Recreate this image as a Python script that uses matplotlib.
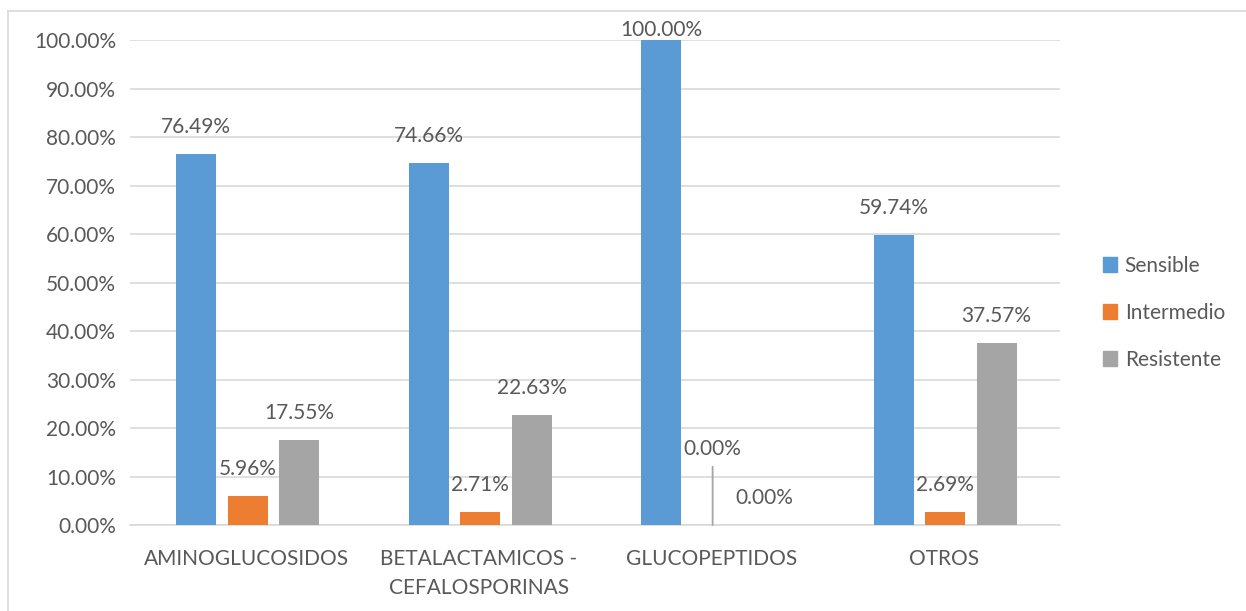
import matplotlib
matplotlib.use("Agg")
import numpy as np
from matplotlib import pyplot as plt
from matplotlib.lines import Line2D

# data
categories = ['AMINOGLUCOSIDOS', 'BETALACTAMICOS -\nCEFALOSPORINAS', 'GLUCOPEPTIDOS', 'OTROS']
series_names = ['Sensible', 'Intermedio', 'Resistente']
sensible = [76.49, 74.66, 100.00, 59.74]
intermedio = [5.96, 2.71, 0.00, 2.69]
resistente = [17.55, 22.63, 0.00, 37.57]

colors = ['#5B9BD5', '#ED7D31', '#A5A5A5']
txt = '#595959'

plt.rcParams['font.family'] = ['Lato', 'DejaVu Sans']
fs = 15

fig = plt.figure(figsize=(12.46, 6.11), dpi=100)
ax = fig.add_axes([0.1043, 0.1407, 0.7464, 0.7938])

x = np.arange(len(categories))
step = 0.2215
width = 0.172
all_series = [sensible, intermedio, resistente]

for i, (vals, name, c) in enumerate(zip(all_series, series_names, colors)):
    pos = x + (i - 1) * step + 0.006
    ax.bar(pos, vals, width, color=c, label=name, zorder=3)
    for j, (p, v) in enumerate(zip(pos, vals)):
        off = 19.5
        if v >= 99.9:
            off = 7
        if i == 1 and j == 2:
            # label pulled up with leader line
            off = 55
            ax.annotate('', xy=(p, 0), xytext=(0, 42), textcoords='offset points',
                        xycoords='data', arrowprops=dict(arrowstyle='-', color='#A5A5A5', lw=1.3,
                                                         shrinkA=0, shrinkB=0))
        ax.annotate(f'{v:.2f}%', xy=(p, v), xytext=(0, off), textcoords='offset points',
                    ha='center', va='center', fontsize=fs, color=txt, zorder=4)

ax.set_xlim(-0.5, len(categories) - 0.5)
ax.set_ylim(0, 100)
ax.set_yticks(np.arange(0, 101, 10))
ax.set_yticklabels([f'{t:.2f}%' for t in np.arange(0, 101, 10)])
ax.set_xticks(x)
ax.set_xticklabels(categories, linespacing=1.6)
ax.tick_params(axis='both', length=0, labelsize=fs, colors=txt)
ax.tick_params(axis='x', pad=17)
ax.tick_params(axis='y', pad=10)
ax.grid(axis='y', color='#D9D9D9', lw=1.2, zorder=0)
for s in ['top', 'right', 'left']:
    ax.spines[s].set_visible(False)
ax.spines['bottom'].set_color('#D9D9D9')
ax.spines['bottom'].set_linewidth(1.2)

handles = [plt.Rectangle((0, 0), 1, 1, color=c) for c in colors]
fig.legend(handles, series_names, loc='center left', bbox_to_anchor=(0.87, 0.488),
           frameon=False, fontsize=fs, labelcolor=txt, handlelength=0.7, handleheight=0.7,
           handletextpad=0.35, labelspacing=1.3)

# chart border (top and left)
fig.add_artist(Line2D([8 / 1246, 1], [1 - 11 / 611, 1 - 11 / 611], color='#D9D9D9', lw=1.2))
fig.add_artist(Line2D([8 / 1246, 8 / 1246], [0, 1 - 11 / 611], color='#D9D9D9', lw=1.2))

fig.savefig('out.png', dpi=100, facecolor='white')
